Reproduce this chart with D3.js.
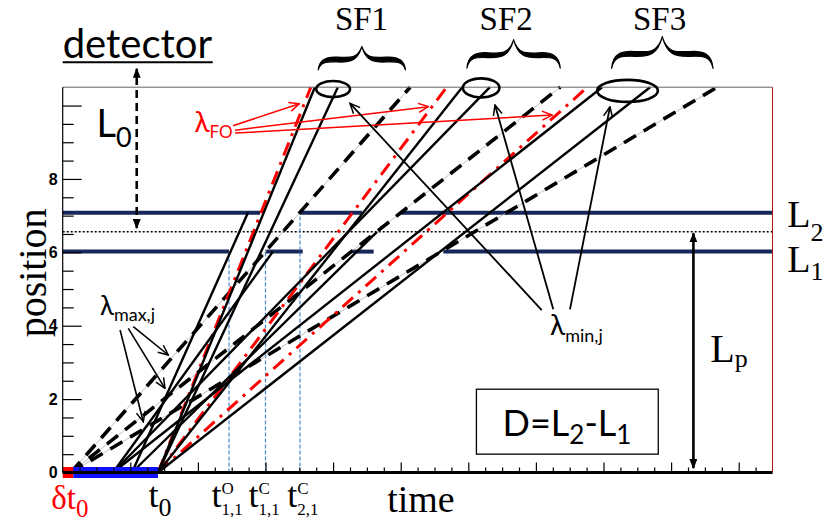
<!DOCTYPE html>
<html>
<head>
<meta charset="utf-8">
<script src="https://cdn.jsdelivr.net/npm/d3@7"></script>
<style>
  body { margin: 0; background: #fff; }
  svg { display: block; }
</style>
</head>
<body>
<svg id="chart" width="824" height="527"></svg>
<script>
// ---- data: time on x, position on y (plot units) ----
const xDomain = [0, 10.5];
const yDomain = [0, 10.5];
const yTickLabels = [0, 2, 4, 6, 8];

const pulseEnd = 0.157;   // δt0
const t0 = 1.41;

// chopper discs (closed parts) at L1 and L2, and the dotted mid line
const L1 = 6.02, L2 = 7.08, Lmid = 6.56;
const L1closed = [[0, 2.46], [3.0, 3.55], [4.29, 4.6], [5.63, 10.5]];
const L2closed = [[0, 2.92], [3.51, 4.43], [5.01, 10.5]];
const chopperTimes = [2.46, 3.0, 3.51];
const chopperPos = [L1, L1, L2];

// lambda_min lines (solid) into the sub-frame ellipses
const solidStart = [t0, t0, t0, 0.744, 0.744, t0];
const solidEnd = [3.73, 4.07, 5.91, 6.32, 7.98, 8.69];
// solid lines stopped by a chopper
const blockedStart = [1.025, 0.744, 1.025];
const blockedEndT = [2.74, 3.11, 4.65];
const blockedEndPos = [7.08, 6.02, 6.56];
// lambda_max lines (dashed)
const dashedStart = [0.12, 0.12, 0.12];
const dashedEnd = [5.14, 7.36, 9.68];
// frame overlap lines (red dash-dot)
const foStart = [t0, t0, t0];
const foEnd = [3.67, 5.68, 7.76];

const subFrames = ['SF1', 'SF2', 'SF3'];

const svg = d3.select('#chart');
const x = d3.scaleLinear().domain(xDomain).range([62.7, 772.5]);
const y = d3.scaleLinear().domain(yDomain).range([472.5, 87.2]);
const yTop = yDomain[1];

const serif = "'Liberation Serif', 'Times New Roman', serif";
const sans = "Lato, 'Noto Sans', 'DejaVu Sans', sans-serif";

// markers
const defs = svg.append('defs');
function openHead(id, color) {
  defs.append('marker').attr('id', id)
    .attr('viewBox', '0 0 12 12').attr('refX', 11).attr('refY', 6)
    .attr('markerWidth', 12).attr('markerHeight', 12)
    .attr('markerUnits', 'userSpaceOnUse').attr('orient', 'auto')
    .append('path').attr('d', 'M1,1.5 L11,6 L1,10.5')
    .attr('fill', 'none').attr('stroke', color).attr('stroke-width', 1.5);
}
openHead('headBlack', '#000');
openHead('headRed', '#f00');
defs.append('marker').attr('id', 'headFill')
  .attr('viewBox', '0 0 10 8').attr('refX', 9).attr('refY', 4)
  .attr('markerWidth', 10).attr('markerHeight', 8)
  .attr('markerUnits', 'userSpaceOnUse').attr('orient', 'auto-start-reverse')
  .append('path').attr('d', 'M0,0 L10,4 L0,8 z').attr('fill', '#000');

// chopper lines
svg.append('line')
  .attr('x1', x(0)).attr('x2', x(10.5)).attr('y1', y(Lmid)).attr('y2', y(Lmid))
  .attr('stroke', '#000').attr('stroke-width', 1.6).attr('stroke-dasharray', '2,2');
[[L1closed, L1], [L2closed, L2]].forEach(([segs, pos]) => {
  svg.append('g').selectAll('line').data(segs).enter().append('line')
    .attr('x1', d => x(d[0])).attr('x2', d => x(d[1]))
    .attr('y1', y(pos)).attr('y2', y(pos))
    .attr('stroke', '#16275a').attr('stroke-width', 4);
});
svg.append('g').selectAll('line').data(chopperTimes).enter().append('line')
  .attr('x1', d => x(d)).attr('x2', d => x(d))
  .attr('y1', y(0)).attr('y2', (d, i) => y(chopperPos[i]))
  .attr('stroke', '#4a88cc').attr('stroke-width', 1.2).attr('stroke-dasharray', '4,2');

// trajectories
const traj = svg.append('g');
traj.selectAll('.grey').data(dashedStart).enter().append('line')
  .attr('x1', d => x(d)).attr('y1', y(0))
  .attr('x2', (d, i) => x(dashedEnd[i])).attr('y2', y(yTop))
  .attr('stroke', '#b0b0b0').attr('stroke-width', 0.8);
traj.selectAll('.dashed').data(dashedStart).enter().append('line')
  .attr('x1', d => x(d)).attr('y1', y(0))
  .attr('x2', (d, i) => x(dashedEnd[i])).attr('y2', y(yTop))
  .attr('stroke', '#000').attr('stroke-width', 3.6).attr('stroke-dasharray', '14,9');
traj.selectAll('.fo').data(foStart).enter().append('line')
  .attr('x1', d => x(d)).attr('y1', y(0))
  .attr('x2', (d, i) => x(foEnd[i])).attr('y2', y(yTop))
  .attr('stroke', '#f00').attr('stroke-width', 3).attr('stroke-dasharray', '14,7,3,7');
traj.selectAll('.solid').data(solidStart).enter().append('line')
  .attr('x1', d => x(d)).attr('y1', y(0))
  .attr('x2', (d, i) => x(solidEnd[i])).attr('y2', y(yTop))
  .attr('stroke', '#000').attr('stroke-width', 2.4);
traj.selectAll('.blocked').data(blockedStart).enter().append('line')
  .attr('x1', d => x(d)).attr('y1', y(0))
  .attr('x2', (d, i) => x(blockedEndT[i])).attr('y2', (d, i) => y(blockedEndPos[i]))
  .attr('stroke', '#000').attr('stroke-width', 2.4);

// source pulse bar
svg.append('rect').attr('x', x(0)).attr('width', x(pulseEnd) - x(0))
  .attr('y', y(0) - 5.5).attr('height', 11).attr('fill', '#ff0000');
svg.append('rect').attr('x', x(pulseEnd)).attr('width', x(t0) - x(pulseEnd))
  .attr('y', y(0) - 5.5).attr('height', 11).attr('fill', '#1010ff');

// axes (ticks inside the frame)
const yAxisMajor = d3.axisLeft(y).tickValues(yTickLabels.concat([10])).tickSize(-19).tickPadding(5)
  .tickFormat(d => yTickLabels.includes(d) ? d : '');
const yAxisMinor = d3.axisLeft(y).tickValues(d3.range(0.5, 10.5, 1)).tickSize(-11).tickFormat('');
const yAxisOdd = d3.axisLeft(y).tickValues([1, 3, 5, 7, 9]).tickSize(-11).tickFormat('');
[yAxisMajor, yAxisMinor, yAxisOdd].forEach(ax => {
  const g = svg.append('g').attr('transform', `translate(${x(0)},0)`).call(ax);
  g.select('.domain').remove();
  g.selectAll('line').attr('stroke', '#000').attr('stroke-width', 1.2);
  g.selectAll('text').attr('font-family', "'Liberation Sans', Arial, sans-serif")
    .attr('font-weight', 'bold').attr('font-size', 16).attr('fill', '#000');
});
const xMajor = d3.axisBottom(x).tickValues(d3.range(1, 11, 1)).tickSize(-10).tickFormat('');
const xMinor = d3.axisBottom(x).tickValues(d3.range(0.25, 10.5, 0.25).filter(v => v % 1 !== 0)).tickSize(-5).tickFormat('');
[xMajor, xMinor].forEach(ax => {
  const g = svg.append('g').attr('transform', `translate(0,${y(0)})`).call(ax);
  g.select('.domain').remove();
  g.selectAll('line').attr('stroke', '#000').attr('stroke-width', 1.2);
});
// frame
svg.append('line').attr('x1', x(0)).attr('x2', x(10.5)).attr('y1', y(yTop)).attr('y2', y(yTop))
  .attr('stroke', '#666').attr('stroke-width', 1);
svg.append('line').attr('x1', x(10.5)).attr('x2', x(10.5)).attr('y1', y(0)).attr('y2', y(yTop))
  .attr('stroke', '#b01010').attr('stroke-width', 1);
svg.append('line').attr('x1', x(0)).attr('x2', x(0)).attr('y1', y(0)).attr('y2', y(yTop))
  .attr('stroke', '#000').attr('stroke-width', 1.2);
svg.append('line').attr('x1', x(0)).attr('x2', x(10.5)).attr('y1', y(0)).attr('y2', y(0))
  .attr('stroke', '#000').attr('stroke-width', 3);

// ---- annotations ----
const ellipses = [[4.0, 10.45, 0.25, 0.22], [6.19, 10.48, 0.27, 0.26], [8.355, 10.40, 0.45, 0.30]];
svg.append('g').selectAll('ellipse').data(ellipses).enter().append('ellipse')
  .attr('cx', d => x(d[0])).attr('cy', d => y(d[1]))
  .attr('rx', d => x(d[2]) - x(0)).attr('ry', d => y(0) - y(d[3]))
  .attr('fill', 'none').attr('stroke', '#000').attr('stroke-width', 2.6);

// curly braces over the ellipses (filled so the stroke swells toward the middle)
const braces = [[3.78, 5.07, 11.6, 10.97], [5.98, 7.36, 11.79, 11.02], [8.12, 9.62, 11.87, 11.01]];
function braceHalf(x0, xm, yt, yb, t) {
  // from the outer end to the tip, with thickness t at the shoulder
  const w = xm - x0, ym = (yt + yb) / 2 + 2;
  return [
    `M${x0},${yb}`,
    `C${x0 + w * 0.02},${ym - t * 0.3} ${x0 + w * 0.2},${ym - t} ${x0 + w * 0.45},${ym - t * 0.8}`,
    `C${x0 + w * 0.75},${ym - t * 0.6} ${xm - w * 0.1},${ym - 2} ${xm},${yt}`,
    `C${xm - w * 0.1},${ym + t * 0.1} ${x0 + w * 0.75},${ym + t * 0.5} ${x0 + w * 0.45},${ym + t * 0.4}`,
    `C${x0 + w * 0.2},${ym + t * 0.3} ${x0 + w * 0.05},${ym + 1} ${x0},${yb}`,
    'Z'
  ].join(' ');
}
svg.append('g').selectAll('path').data(braces.flatMap(d => {
  const x0 = x(d[0]), x1 = x(d[1]), xm = (x0 + x1) / 2;
  return [braceHalf(x0, xm, y(d[2]), y(d[3]), 4), braceHalf(x1, xm, y(d[2]), y(d[3]), 4)];
})).enter().append('path')
  .attr('d', d => d)
  .attr('fill', '#000').attr('stroke', '#000').attr('stroke-width', 1.2).attr('stroke-linejoin', 'round');
svg.append('g').selectAll('text').data(subFrames).enter().append('text')
  .attr('x', (d, i) => x([4.42, 6.56, 8.83][i])).attr('y', 29.5)
  .attr('text-anchor', 'middle').attr('font-family', serif).attr('font-size', 33)
  .text(d => d);

// arrows
function arrows(list, color, marker, width) {
  svg.append('g').selectAll('line').data(list).enter().append('line')
    .attr('x1', d => x(d[0][0])).attr('y1', d => y(d[0][1]))
    .attr('x2', d => x(d[1][0])).attr('y2', d => y(d[1][1]))
    .attr('stroke', color).attr('stroke-width', width).attr('marker-end', `url(#${marker})`);
}
arrows([[[2.52, 9.45], [3.50, 10.05]], [[2.55, 9.33], [5.41, 9.97]], [[2.55, 9.25], [7.24, 9.74]]],
  '#f00', 'headRed', 1.5);
arrows([[[0.849, 3.883], [1.192, 1.384]], [[0.97, 3.929], [1.513, 2.294]], [[1.044, 3.973], [1.562, 3.202]]],
  '#000', 'headBlack', 1.6);
arrows([[[7.086, 4.428], [4.25, 10.06]], [[7.257, 4.447], [6.395, 10.014]], [[7.504, 4.447], [8.096, 9.967]]],
  '#000', 'headBlack', 1.8);

// detector distance and Lp arrows
svg.append('line').attr('x1', x(1.095)).attr('x2', x(1.095)).attr('y1', y(6.66)).attr('y2', y(11.0))
  .attr('stroke', '#000').attr('stroke-width', 2.6).attr('stroke-dasharray', '8,5')
  .attr('marker-start', 'url(#headFill)').attr('marker-end', 'url(#headFill)');
svg.append('line').attr('x1', x(9.33)).attr('x2', x(9.33)).attr('y1', y(6.52)).attr('y2', y(0.12))
  .attr('stroke', '#000').attr('stroke-width', 2.6)
  .attr('marker-start', 'url(#headFill)').attr('marker-end', 'url(#headFill)');

// text helper: base string followed by sub / sup parts
function label(px, py, parts, opts) {
  const t = svg.append('text').attr('x', px).attr('y', py)
    .attr('font-family', opts.family).attr('font-size', opts.size)
    .attr('fill', opts.color || '#000');
  parts.forEach(p => {
    const s = t.append('tspan').text(p.text);
    if (p.size) s.attr('font-size', p.size);
    if (p.dy) s.attr('dy', p.dy);
    if (p.dx) s.attr('dx', p.dx);
    if (p.color) s.attr('fill', p.color);
  });
  return t;
}

label(x(0), y(11.3), [{text: 'detector'}], {family: sans, size: 40});
svg.append('line').attr('x1', x(0)).attr('x2', x(2.22)).attr('y1', y(11.18)).attr('y2', y(11.18))
  .attr('stroke', '#000').attr('stroke-width', 2);
label(x(0.5), y(9.14), [{text: 'L'}, {text: '0', size: 27, dy: 10}], {family: sans, size: 38});
label(x(1.95), y(9.27), [{text: 'λ'}, {text: 'FO', size: 17, dy: 6}], {family: sans, size: 28, color: '#f00'});
label(x(0.55), y(4.3), [{text: 'λ'}, {text: 'max,j', size: 18, dy: 6}], {family: sans, size: 26});
label(x(7.21), y(3.76), [{text: 'λ'}, {text: 'min,j', size: 18, dy: 7}], {family: sans, size: 28});
label(x(10.72), y(6.69), [{text: 'L'}, {text: '2', size: 26, dy: 14}], {family: serif, size: 38});
label(x(10.72), y(5.46), [{text: 'L'}, {text: '1', size: 26, dy: 8}], {family: serif, size: 38});
label(x(9.58), y(3.0), [{text: 'L'}, {text: 'p', size: 26, dy: 5}], {family: serif, size: 40});

// D box
svg.append('rect').attr('x', x(6.12)).attr('y', y(2.27))
  .attr('width', x(8.81) - x(6.12)).attr('height', y(0.5) - y(2.27))
  .attr('fill', 'none').attr('stroke', '#000').attr('stroke-width', 1.3);
label(x(7.46), y(1.0), [{text: 'D=L'}, {text: '2', size: 26, dy: 8}, {text: '-L', dy: -8}, {text: '1', size: 26, dy: 8}],
  {family: sans, size: 36}).attr('text-anchor', 'middle');

// axis titles
label(x(4.8), y(-1.08), [{text: 'time'}], {family: serif, size: 38});
svg.append('text').attr('transform', `translate(${x(-0.25)},${y(5.44)}) rotate(-90)`)
  .attr('text-anchor', 'middle').attr('font-family', serif).attr('font-size', 40).text('position');

// time labels under the axis
const by = y(-0.94);
label(x(-0.17), by + 2, [{text: 'δt'}, {text: '0', size: 25, dy: 8}], {family: serif, size: 33, color: '#f00'});
label(x(1.27), by, [{text: 't'}, {text: '0', size: 26, dy: 9}], {family: serif, size: 36});
[['O', '1,1'], ['C', '1,1'], ['C', '2,1']].forEach((d, i) => {
  const px = x([2.2, 2.75, 3.32][i]);
  label(px, by, [{text: 't'}], {family: serif, size: 36});
  label(px + 10, by - 12.5, [{text: d[0]}], {family: serif, size: 17});
  label(px + 10, by + 8.5, [{text: d[1]}], {family: serif, size: 17});
});
</script>
</body>
</html>
